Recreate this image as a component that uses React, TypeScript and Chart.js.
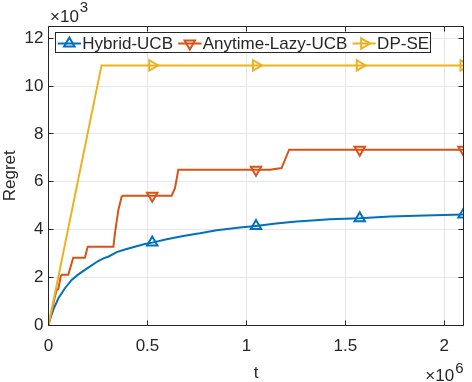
import React, { useEffect, useRef } from "react";
import { Chart, registerables } from "chart.js";

Chart.register(...registerables);

// ---- data (t in units of 10^6, regret in units of 10^3) ----
const seriesNames = ["Hybrid-UCB", "Anytime-Lazy-UCB", "DP-SE"];
const seriesColors = ["#0072BD", "#D95319", "#EDB120"];
const markerRotations = [0, 180, 90];
const markerT = [0.524288, 1.048576, 1.572864, 2.097152];

const hybridT = [0, 0.012, 0.024, 0.05, 0.083, 0.117, 0.151, 0.201, 0.251, 0.28, 0.302, 0.345, 0.386, 0.436, 0.487, 0.524288, 0.597, 0.681, 0.765, 0.85, 0.967, 1.048576, 1.15, 1.254, 1.35, 1.422, 1.572864, 1.726, 1.9, 2.097152];
const hybridR = [0, 0.35, 0.63, 1.12, 1.54, 1.89, 2.12, 2.4, 2.68, 2.8, 2.86, 3.05, 3.16, 3.28, 3.39, 3.45, 3.59, 3.73, 3.84, 3.97, 4.08, 4.15, 4.25, 4.33, 4.39, 4.43, 4.47, 4.54, 4.59, 4.63];

const lazyT = [0, 0.04, 0.05, 0.062, 0.068, 0.1, 0.125, 0.184, 0.198, 0.328, 0.336, 0.353, 0.37, 0.377, 0.524288, 0.622, 0.639, 0.656, 1.048576, 1.119, 1.178, 1.216, 1.572864, 2.097152];
const lazyR = [0, 1.45, 1.52, 2.05, 2.1, 2.1, 2.82, 2.82, 3.28, 3.28, 3.86, 4.82, 5.38, 5.41, 5.41, 5.41, 5.73, 6.5, 6.5, 6.5, 6.57, 7.34, 7.34, 7.34];

const dpseT = [0, 0.268, 0.524288, 1.048576, 1.572864, 2.097152];
const dpseR = [0, 10.87, 10.87, 10.87, 10.87, 10.87];

const xTickValues = [0, 0.5, 1, 1.5, 2];
const yTickValues = [0, 2, 4, 6, 8, 10, 12];
const xMax = 2.097152;
const yMax = 12.5;

const xLabel = "t";
const yLabel = "Regret";
const xExponent = "6";
const yExponent = "3";

const FONT = "'Liberation Sans', Arial, Helvetica, sans-serif";
const DARK = "#262626";

function triangle(ctx: CanvasRenderingContext2D, x: number, y: number, r: number, rotDeg: number) {
  let rad = (rotDeg * Math.PI) / 180;
  ctx.beginPath();
  for (let i = 0; i < 3; i++) {
    const px = x + Math.sin(rad) * r;
    const py = y - Math.cos(rad) * r;
    if (i === 0) ctx.moveTo(px, py);
    else ctx.lineTo(px, py);
    rad += (2 * Math.PI) / 3;
  }
  ctx.closePath();
  ctx.stroke();
}

const decorPlugin = {
  id: "decor",
  afterDraw(chart: any) {
    const { ctx, chartArea: a, scales } = chart;
    const xs = scales.x;
    const ys = scales.y;
    const L = Math.floor(a.left) + 0.5;
    const R = Math.floor(a.right) + 0.5;
    const T = Math.floor(a.top) + 0.5;
    const B = Math.floor(a.bottom) + 0.5;
    ctx.save();
    // frame
    ctx.strokeStyle = DARK;
    ctx.lineWidth = 1;
    ctx.beginPath();
    ctx.rect(L, T, R - L, B - T);
    ctx.stroke();
    // inward ticks
    ctx.beginPath();
    for (const v of yTickValues) {
      const p = Math.floor(ys.getPixelForValue(v)) + 0.5;
      ctx.moveTo(L, p);
      ctx.lineTo(L + 5, p);
      ctx.moveTo(R, p);
      ctx.lineTo(R - 5, p);
    }
    for (const v of xTickValues) {
      const p = Math.floor(xs.getPixelForValue(v)) + 0.5;
      ctx.moveTo(p, B);
      ctx.lineTo(p, B - 5);
      ctx.moveTo(p, T);
      ctx.lineTo(p, T + 5);
    }
    ctx.stroke();

    // axis labels
    ctx.fillStyle = DARK;
    ctx.font = `17px ${FONT}`;
    ctx.textAlign = "center";
    ctx.textBaseline = "alphabetic";
    ctx.fillText(xLabel, (a.left + a.right) / 2, 378);
    ctx.save();
    ctx.translate(15, (a.top + a.bottom) / 2);
    ctx.rotate(-Math.PI / 2);
    ctx.fillText(yLabel, 0, 0);
    ctx.restore();

    // exponent labels
    ctx.textAlign = "left";
    ctx.font = `17px ${FONT}`;
    const base = "\u00D710";
    const wBase = ctx.measureText(base).width;
    ctx.fillText(base, a.left + 1.5, 21.5);
    ctx.font = `15px ${FONT}`;
    ctx.fillText(yExponent, a.left + 1.5 + wBase + 1, 12);
    const w6 = ctx.measureText(xExponent).width;
    const x6 = a.right - w6;
    ctx.fillText(xExponent, x6, 372.5);
    ctx.font = `17px ${FONT}`;
    ctx.textAlign = "right";
    ctx.fillText(base, x6 - 1, 381);

    // legend
    ctx.font = `17px ${FONT}`;
    ctx.textAlign = "left";
    const boxL = 55.5, boxT = 32.5, boxH = 20;
    let cx = 57.7;
    const lineLen = 23.3;
    const positions: number[] = [];
    for (let i = 0; i < seriesNames.length; i++) {
      positions.push(cx);
      const tw = ctx.measureText(seriesNames[i]).width;
      cx = cx + lineLen + 1.3 + tw + 5.2;
    }
    const boxR = cx - 5.2 + 1.5;
    ctx.fillStyle = "#ffffff";
    ctx.fillRect(boxL, boxT, boxR - boxL, boxH);
    ctx.strokeStyle = DARK;
    ctx.lineWidth = 1;
    ctx.strokeRect(boxL, boxT, Math.round(boxR - boxL), boxH);
    const ly = 43.5;
    for (let i = 0; i < seriesNames.length; i++) {
      const x0 = positions[i];
      ctx.strokeStyle = seriesColors[i];
      ctx.lineWidth = 2;
      ctx.beginPath();
      ctx.moveTo(x0, ly);
      ctx.lineTo(x0 + lineLen, ly);
      ctx.stroke();
      triangle(ctx, x0 + lineLen / 2, ly, 6, markerRotations[i]);
      ctx.fillStyle = DARK;
      ctx.fillText(seriesNames[i], x0 + lineLen + 1.3, 49.3);
    }
    ctx.restore();
  },
};

function makeDataset(i: number, ts: number[], rs: number[], order: number) {
  return {
    label: seriesNames[i],
    data: ts.map((t, k) => ({ x: t, y: rs[k] })),
    borderColor: seriesColors[i],
    backgroundColor: "rgba(0,0,0,0)",
    borderWidth: 2,
    tension: 0,
    pointStyle: "triangle",
    pointRotation: markerRotations[i],
    pointRadius: ts.map((t) => (markerT.some((m) => Math.abs(m - t) < 1e-9) ? 6 : 0)),
    pointBorderWidth: 2,
    pointBorderColor: seriesColors[i],
    pointBackgroundColor: "rgba(0,0,0,0)",
    pointHoverRadius: 0,
    order,
  };
}

export default function App() {
  const canvasRef = useRef<HTMLCanvasElement | null>(null);

  useEffect(() => {
    if (!canvasRef.current) return;
    Chart.defaults.font.family = FONT;
    Chart.defaults.font.size = 17;
    Chart.defaults.color = DARK;
    const chart = new Chart(canvasRef.current, {
      type: "line",
      data: {
        datasets: [
          makeDataset(0, hybridT, hybridR, 2),
          makeDataset(1, lazyT, lazyR, 1),
          makeDataset(2, dpseT, dpseR, 0),
        ] as any,
      },
      options: {
        animation: false,
        responsive: true,
        maintainAspectRatio: false,
        devicePixelRatio: 1,
        layout: { padding: { top: 26.5, right: 8.5, left: 0, bottom: 0 } },
        plugins: { legend: { display: false }, tooltip: { enabled: false } },
        events: [],
        scales: {
          x: {
            type: "linear",
            min: 0,
            max: xMax,
            grid: { color: "#e6e6e6", drawTicks: false, lineWidth: 1 },
            border: { display: false },
            ticks: {
              padding: 11,
              maxRotation: 0,
              autoSkip: false,
              color: DARK,
              font: { size: 17 },
              callback: (v: any) => String(v),
            },
            afterBuildTicks: (s: any) => {
              s.ticks = xTickValues.map((v) => ({ value: v }));
            },
            afterFit: (s: any) => {
              s.height = 57;
            },
          },
          y: {
            type: "linear",
            min: 0,
            max: yMax,
            grid: { color: "#e6e6e6", drawTicks: false, lineWidth: 1 },
            border: { display: false },
            ticks: {
              padding: 5,
              autoSkip: false,
              color: DARK,
              font: { size: 17 },
              callback: (v: any) => String(v),
            },
            afterBuildTicks: (s: any) => {
              s.ticks = yTickValues.map((v) => ({ value: v }));
            },
            afterFit: (s: any) => {
              s.width = 48.5;
            },
          },
        },
      } as any,
      plugins: [decorPlugin],
    });
    return () => chart.destroy();
  }, []);

  return (
    <div style={{ position: "fixed", left: 0, top: 0, width: 472, height: 382, background: "#ffffff" }}>
      <canvas ref={canvasRef} />
    </div>
  );
}
